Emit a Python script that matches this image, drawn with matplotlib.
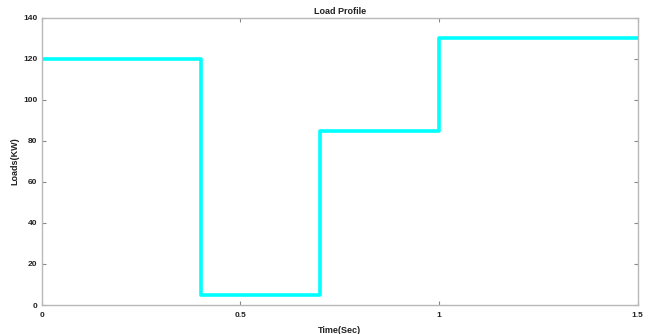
import matplotlib
matplotlib.use("Agg")
import matplotlib.pyplot as plt

time_breaks = [0, 0.4, 0.7, 1.0, 1.5]
load_kw = [120, 5, 85, 130, 130]
x_ticks = [0, 0.5, 1, 1.5]
x_tick_labels = ["0", "0.5", "1", "1.5"]
y_ticks = [0, 20, 40, 60, 80, 100, 120, 140]

plt.rcParams['font.family'] = ['Liberation Sans', 'DejaVu Sans']
fig = plt.figure(figsize=(6.48, 3.34), dpi=100)
ax = fig.add_axes([41.7/648, 1-305/334, (637.7-41.7)/648, (305-17.7)/334])
ax.step(time_breaks, load_kw, where='post', color='#00FFFF', linewidth=2.6)
ax.set_xlim(0, 1.5)
ax.set_ylim(0, 140)
ax.set_xticks(x_ticks)
ax.set_xticklabels(x_tick_labels)
ax.set_yticks(y_ticks)
for s in ax.spines.values():
    s.set_color('#b8b8b8')
    s.set_linewidth(1.0)
ax.tick_params(direction='in', top=True, right=True, length=3, width=0.8,
               color='#888888', labelsize=6, pad=3, labelcolor='#222222')
ax.tick_params(axis='x', pad=5)
for lab in ax.get_xticklabels() + ax.get_yticklabels():
    lab.set_fontweight('bold')
ax.set_title('Load Profile', fontsize=6.5, fontweight='bold', pad=3, color='#222222')
ax.set_xlabel('Time(Sec)', fontsize=6.5, fontweight='bold', labelpad=5, color='#222222')
ax.set_ylabel('Loads(KW)', fontsize=6.5, fontweight='bold', labelpad=3, color='#222222')
fig.savefig('out.png', dpi=100)
